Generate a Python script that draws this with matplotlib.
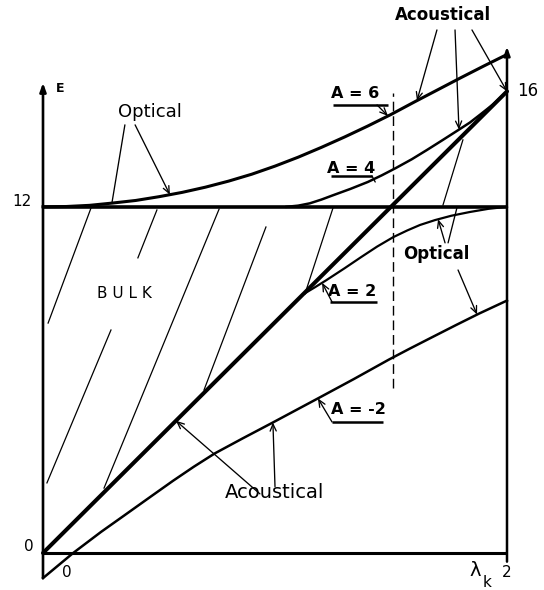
import numpy as np
import matplotlib.pyplot as plt

# surface branches, E against lambda_k
lam_diag = [0.0, 2.0]
E_diag = [0.0, 16.0]

lam_a6 = [0.0, 0.1, 0.2, 0.3, 0.4, 0.5, 0.6, 0.7, 0.8, 0.9, 1.0,
          1.1, 1.2, 1.3, 1.4, 1.5, 1.6, 1.7, 1.8, 1.9, 2.0]
E_a6 = [12.0, 12.01, 12.05, 12.13, 12.22, 12.35, 12.5, 12.68, 12.89, 13.13, 13.41,
        13.72, 14.06, 14.42, 14.8, 15.2, 15.63, 16.05, 16.47, 16.88, 17.28]

lam_a4 = [1.05, 1.1, 1.15, 1.2, 1.25, 1.325, 1.4, 1.46, 1.52, 1.59, 1.655,
          1.72, 1.79, 1.84, 1.885, 1.94, 2.0]
E_a4 = [12.0, 12.04, 12.12, 12.25, 12.4, 12.62, 12.86, 13.09, 13.34, 13.65, 13.97,
        14.3, 14.66, 14.92, 15.2, 15.55, 16.0]

lam_a2 = [1.12, 1.17, 1.22, 1.3, 1.37, 1.44, 1.51, 1.57, 1.625, 1.69, 1.76,
          1.84, 1.92, 2.0]
E_a2 = [8.96, 9.2, 9.45, 9.87, 10.25, 10.62, 10.95, 11.18, 11.37, 11.54, 11.69,
        11.82, 11.93, 12.0]

lam_am2 = [0.0, 0.13, 0.25, 0.35, 0.46, 0.56, 0.65, 0.74, 0.86, 0.99, 1.09,
           1.19, 1.34, 1.49, 1.58, 1.67, 1.78, 1.88, 2.0]
E_am2 = [-0.87, 0.0, 0.73, 1.3, 1.93, 2.5, 2.99, 3.45, 3.97, 4.52, 4.95,
         5.38, 6.03, 6.7, 7.08, 7.45, 7.9, 8.3, 8.75]

E_gap = 12.0
lam_zone = 1.51

# bulk shading strokes (lam0, E0, lam1, E1)
hatch = [
    (0.207, 11.96, 0.022, 7.97),
    (0.491, 11.89, 0.409, 10.23),
    (0.759, 11.92, 0.263, 2.25),
    (0.961, 11.30, 0.694, 5.65),
    (1.250, 11.96, 1.129, 8.98),
    (0.293, 7.73, 0.017, 2.43),
    (1.810, 14.32, 1.724, 12.06),
]

fig = plt.figure(figsize=(5.44, 5.90), dpi=100)
ax = fig.add_axes([0, 0, 1, 1])
ax.set_xlim(-43 / 232, (544 - 43) / 232)
ax.set_ylim(-(590 - 553) / 28.85, 553 / 28.85)
ax.axis('off')

k = 'black'

# frame
ax.annotate('', xy=(0, 16.3), xytext=(0, -0.87),
            arrowprops=dict(arrowstyle='-|>,head_length=0.5,head_width=0.18',
                            lw=1.9, color=k, shrinkA=0, shrinkB=0))
ax.annotate('', xy=(2, 17.55), xytext=(2, -0.3),
            arrowprops=dict(arrowstyle='-|>,head_length=0.5,head_width=0.18',
                            lw=1.8, color=k, shrinkA=0, shrinkB=0))
ax.plot([0, 2], [0, 0], color=k, lw=2.2, solid_capstyle='butt')
ax.plot([0, 2], [E_gap, E_gap], color=k, lw=2.6, solid_capstyle='butt')
ax.plot([lam_zone, lam_zone], [5.72, 15.94], color=k, lw=1.0,
        linestyle=(0, (7, 3.5)))

# branches
ax.plot(lam_diag, E_diag, color=k, lw=2.9, solid_capstyle='round')
ax.plot(lam_a6, E_a6, color=k, lw=2.2, solid_joinstyle='round')
ax.plot(lam_a4, E_a4, color=k, lw=1.8, solid_joinstyle='round')
ax.plot(lam_a2, E_a2, color=k, lw=1.6, solid_joinstyle='round')
ax.plot(lam_am2, E_am2, color=k, lw=1.8, solid_joinstyle='round')

for x0, y0, x1, y1 in hatch:
    ax.plot([x0, x1], [y0, y1], color=k, lw=0.9)


def on(lams, Es, x):
    return (x, float(np.interp(x, lams, Es)))


def arrow(start, end, head=True):
    style = '->,head_length=0.5,head_width=0.22' if head else '-'
    ax.annotate('', xy=end, xytext=start,
                arrowprops=dict(arrowstyle=style, lw=0.95, color=k,
                                shrinkA=0, shrinkB=0))


# labels
ax.text(1.724, 18.65, 'Acoustical', fontsize=12, fontweight='bold',
        ha='center', va='center')
arrow((1.698, 18.13), on(lam_a6, E_a6, 1.612))
arrow((1.776, 18.13), on(lam_a4, E_a4, 1.793))
arrow((1.849, 18.13), (2.0, 16.0))

ax.text(0.461, 15.29, 'Optical', fontsize=13, ha='center', va='center')
arrow((0.353, 14.84), on(lam_a6, E_a6, 0.297), head=False)
arrow((0.397, 14.84), on(lam_a6, E_a6, 0.547))

ax.text(1.694, 10.36, 'Optical', fontsize=12, fontweight='bold',
        ha='center', va='center')
arrow((1.733, 10.75), on(lam_a2, E_a2, 1.703))
arrow((1.746, 10.75), (1.784, 11.96), head=False)
arrow((1.789, 9.81), on(lam_am2, E_am2, 1.871))

ax.text(0.996, 2.1, 'Acoustical', fontsize=14, ha='center', va='center')
arrow((0.935, 2.05), on(lam_diag, E_diag, 0.573))
arrow((1.0, 2.3), on(lam_am2, E_am2, 0.991))

ax.text(0.353, 8.98, 'B U L K', fontsize=11, ha='center', va='center')

# branch tags, underlined with a leader
tags = [
    ('A = 6', 1.345, 15.91, 1.25, 1.487, 15.53),
    ('A = 4', 1.328, 13.34, 1.241, 1.418, 13.07),
    ('A = 2', 1.332, 9.05, 1.237, 1.44, 8.70),
    ('A = -2', 1.358, 4.96, 1.246, 1.466, 4.54),
]
for s, tx, ty, u0, u1, uy in tags:
    ax.text(tx, ty, s, fontsize=11.5, fontweight='bold', ha='center', va='center')
    ax.plot([u0, u1], [uy, uy], color=k, lw=1.8, solid_capstyle='butt')

arrow((1.44, 15.53), on(lam_a6, E_a6, 1.487))
arrow((1.418, 13.07), (1.432, 12.86), head=False)
arrow((1.246, 8.70), on(lam_a2, E_a2, 1.203))
arrow((1.246, 4.54), on(lam_am2, E_am2, 1.185))

# axis marks
ax.text(0.073, 16.1, 'E', fontsize=9, fontweight='bold', ha='center', va='center')
ax.text(-0.091, 12.2, '12', fontsize=11, ha='center', va='center')
ax.text(2.09, 16.0, '16', fontsize=12, ha='center', va='center')
ax.text(-0.06, 0.24, '0', fontsize=11, ha='center', va='center')
ax.text(0.103, -0.69, '0', fontsize=11, ha='center', va='center')
ax.text(1.865, -0.6, 'λ', fontsize=14, ha='center', va='center')
ax.text(1.912, -1.02, 'k', fontsize=11, ha='center', va='center')
ax.text(2.0, -0.66, '2', fontsize=11, ha='center', va='center')

fig.savefig('out.png', dpi=100)
